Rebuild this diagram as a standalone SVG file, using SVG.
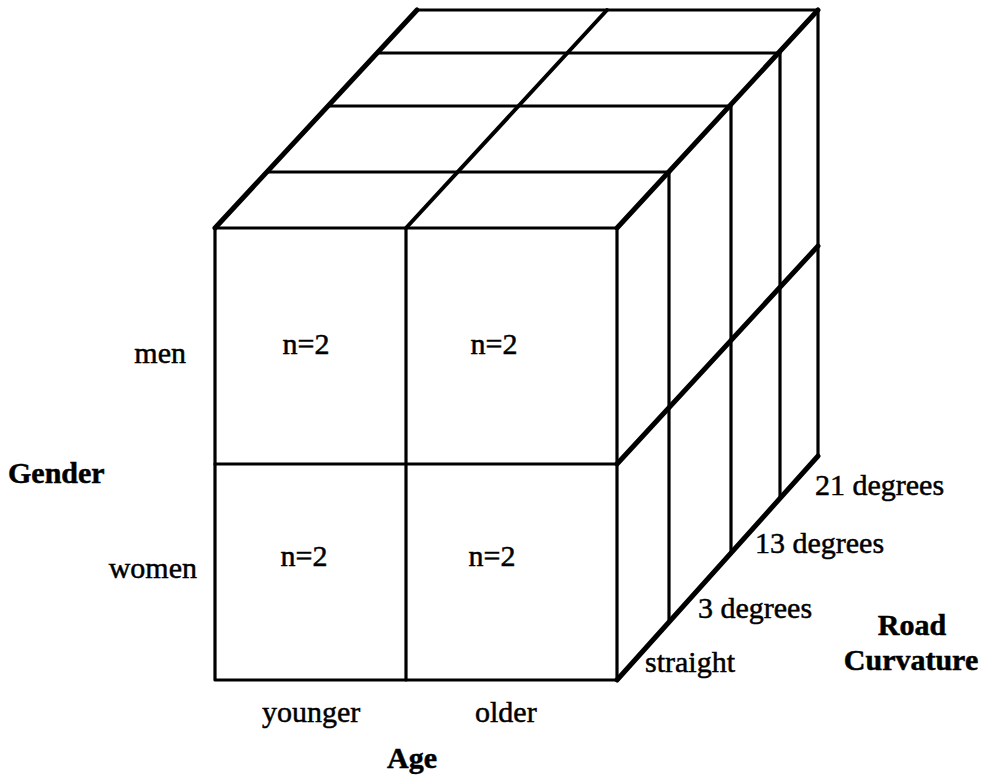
<svg xmlns="http://www.w3.org/2000/svg" width="982" height="777" viewBox="0 0 982 777">
<style>
.ln{fill:none;stroke:#000;stroke-width:3.2;stroke-linecap:round;stroke-linejoin:round}
.th{fill:none;stroke:#000;stroke-width:5;stroke-linecap:round;stroke-linejoin:round}
.md{fill:none;stroke:#000;stroke-width:4;stroke-linecap:round}
.t{font-family:'Liberation Serif','Times New Roman',serif;font-size:30px;fill:#000;stroke:#000;stroke-width:0.5}
.b{font-weight:bold}
</style>
<rect width="982" height="777" fill="#fff"/>
<g id="cube">
  <g id="front-face">
    <rect class="ln" x="215" y="228" width="402" height="452"/>
    <line class="ln" x1="406" y1="228" x2="406" y2="680"/>
    <line class="ln" x1="215" y1="464" x2="617" y2="464"/>
  </g>
  <g id="top-face">
    <line class="ln" x1="267" y1="172" x2="669" y2="172"/>
    <line class="ln" x1="328" y1="106" x2="731" y2="106"/>
    <line class="ln" x1="377" y1="53" x2="780" y2="53"/>
    <line class="ln" x1="417" y1="10" x2="818" y2="10"/>
    <line class="md" x1="406" y1="228" x2="607" y2="10"/>
    <line class="th" x1="215" y1="228" x2="417" y2="10"/>
  </g>
  <g id="right-face">
    <line class="ln" x1="669" y1="172" x2="669" y2="622"/>
    <line class="ln" x1="731" y1="106" x2="731" y2="553"/>
    <line class="ln" x1="780" y1="53" x2="780" y2="497"/>
    <line class="ln" x1="818" y1="10" x2="818" y2="456"/>
    <line class="th" x1="617" y1="228" x2="818" y2="10"/>
    <line class="th" x1="617" y1="464" x2="818" y2="246"/>
    <line class="th" x1="617" y1="680" x2="818" y2="456"/>
  </g>
</g>
<g id="cells" font-family="Liberation Serif, Times New Roman, serif">
  <text class="t" x="306" y="354" text-anchor="middle">n=2</text>
  <text class="t" x="494" y="354" text-anchor="middle">n=2</text>
  <text class="t" x="304" y="566" text-anchor="middle">n=2</text>
  <text class="t" x="492" y="566" text-anchor="middle">n=2</text>
</g>
<g id="gender-axis" font-family="Liberation Serif, Times New Roman, serif">
  <text class="t" x="186" y="363" text-anchor="end">men</text>
  <text class="t" x="197" y="578" text-anchor="end">women</text>
  <text class="t b" x="8" y="483">Gender</text>
</g>
<g id="age-axis" font-family="Liberation Serif, Times New Roman, serif">
  <text class="t" x="262" y="722">younger</text>
  <text class="t" x="475" y="722">older</text>
  <text class="t b" x="387" y="768">Age</text>
</g>
<g id="curvature-axis" font-family="Liberation Serif, Times New Roman, serif">
  <text class="t" x="645" y="672">straight</text>
  <text class="t" x="698" y="618">3 degrees</text>
  <text class="t" x="755" y="553">13 degrees</text>
  <text class="t" x="815" y="495">21 degrees</text>
  <text class="t b" x="912" y="635" text-anchor="middle">Road</text>
  <text class="t b" x="911" y="670" text-anchor="middle">Curvature</text>
</g>
</svg>
